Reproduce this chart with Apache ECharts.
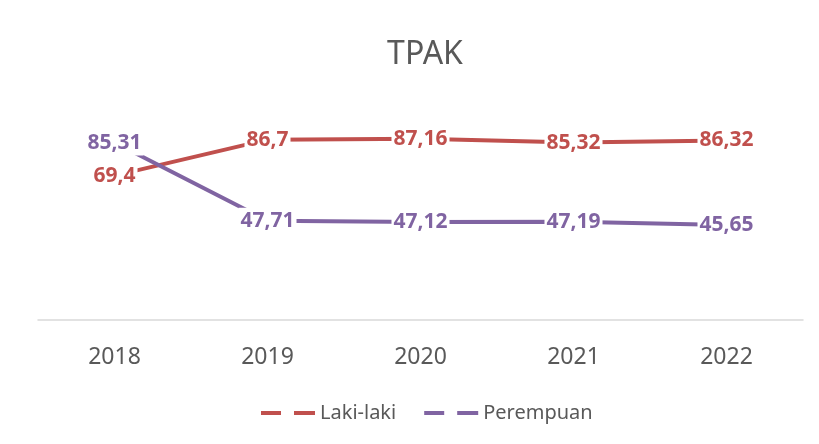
<!DOCTYPE html>
<html><head><meta charset="utf-8">
<script src="https://cdn.jsdelivr.net/npm/echarts@6/dist/echarts.min.js"></script>
<style>html,body{margin:0;padding:0;background:#fff}#c{width:819px;height:444px}</style>
</head><body><div id="c"></div>
<script>
const categories = ['2018','2019','2020','2021','2022'];
const lakiLaki = [69.4, 86.7, 87.16, 85.32, 86.32];
const perempuan = [85.31, 47.71, 47.12, 47.19, 45.65];
const seriesNames = ['Laki-laki','Perempuan'];
const colors = ['#C0504D','#8064A2'];
const fmt = v => String(v.value).replace('.', ',');
const F = 'Noto Sans';
const icon = 'path://M0,0H20V4H0Z M33,0H54V4H33Z';
function mk(name, data, color){
  return {
    name, type:'line', data, symbol:'circle', symbolSize:0,
    lineStyle:{color, width:4}, itemStyle:{color},
    label:{show:true, position:'inside', formatter:fmt, color, fontFamily:F, fontWeight:'bold', fontSize:21,
      backgroundColor:'#fff', padding:[3,2,2,2]},
    emphasis:{disabled:true}, animation:false
  };
}
const chart = echarts.init(document.getElementById('c'));
chart.setOption({
  animation:false,
  title:{text:'TPAK', left:420, textAlign:'center', top:34, textStyle:{fontFamily:F, fontWeight:'normal', fontSize:32, color:'#595959'}},
  legend:{left:256, top:398, itemWidth:54, itemHeight:4, itemGap:28,
    textStyle:{fontFamily:F, fontSize:20, color:'#595959'},
    data:[{name:seriesNames[0], icon}, {name:seriesNames[1], icon}]},
  grid:{left:38, right:16, top:112, bottom:124},
  xAxis:{type:'category', data:categories, boundaryGap:true,
    axisLine:{lineStyle:{color:'#d9d9d9', width:1.5}}, axisTick:{show:false},
    axisLabel:{fontFamily:F, fontSize:23, color:'#595959', margin:26}},
  yAxis:{type:'value', min:0, max:100, show:false, splitLine:{show:false}},
  series:[mk(seriesNames[0], lakiLaki, colors[0]), mk(seriesNames[1], perempuan, colors[1])]
});
</script></body></html>
